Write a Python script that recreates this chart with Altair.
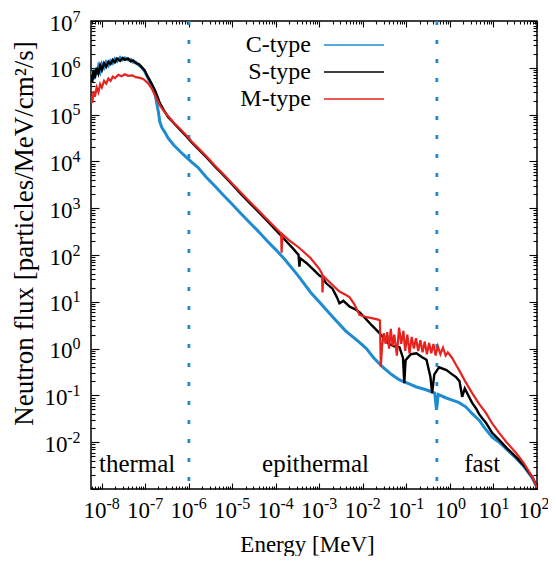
import altair as alt
import pandas as pd

# ---- data: (log10 Energy [MeV], log10 flux) ----
c_type = [(-8.25,5.80),(-8.22,5.92),(-8.19,5.75),(-8.16,5.98),(-8.12,5.85),(-8.08,6.03),(-8.04,5.92),(-8.00,6.08),
          (-7.95,6.00),(-7.90,6.12),(-7.85,6.05),(-7.80,6.15),(-7.75,6.10),(-7.70,6.19),(-7.65,6.14),(-7.58,6.22),
          (-7.52,6.17),(-7.47,6.21),(-7.40,6.17),(-7.34,6.18),(-7.28,6.12),(-7.22,6.12),(-7.15,6.05),(-7.10,6.02),
          (-7.02,5.93),(-6.94,5.78),(-6.86,5.62),(-6.78,5.45),(-6.74,5.25),(-6.70,5.05),(-6.67,4.85),(-6.62,4.72),
          (-6.55,4.62),(-6.48,4.50),(-6.35,4.35),(-6.19,4.20),(-6.05,4.08),(-5.93,3.98),(-5.80,3.88),(-5.60,3.66),
          (-5.41,3.48),(-5.20,3.27),(-5.00,3.08),(-4.80,2.88),(-4.60,2.69),(-4.40,2.50),(-4.20,2.30),(-4.00,2.11),
          (-3.80,1.91),(-3.50,1.57),(-3.20,1.20),(-2.93,0.92),(-2.70,0.68),(-2.40,0.38),(-2.10,0.15),(-1.92,0.00),
          (-1.75,-0.20),(-1.55,-0.39),(-1.35,-0.55),(-1.16,-0.67),(-0.95,-0.75),(-0.77,-0.82),(-0.55,-0.88),
          (-0.35,-0.95),(-0.31,-1.31),(-0.27,-0.98),(-0.10,-1.05),(0.05,-1.10),(0.20,-1.15),(0.37,-1.25),
          (0.50,-1.38),(0.67,-1.53),(0.80,-1.70),(0.97,-1.89),(1.13,-2.00),(1.30,-2.15),(1.52,-2.34),
          (1.70,-2.52),(1.89,-2.76),(2.00,-2.97)]

s_type = [(-8.25,5.85),(-8.22,5.70),(-8.19,5.95),(-8.16,5.78),(-8.12,6.00),(-8.08,5.88),(-8.04,6.05),(-8.00,5.95),
          (-7.95,6.10),(-7.90,6.02),(-7.85,6.13),(-7.80,6.08),(-7.75,6.17),(-7.70,6.12),(-7.65,6.20),(-7.58,6.15),
          (-7.52,6.21),(-7.47,6.17),(-7.40,6.20),(-7.34,6.14),(-7.28,6.16),(-7.22,6.10),(-7.15,6.08),(-7.10,6.03),
          (-7.02,5.95),(-6.94,5.80),(-6.86,5.67),(-6.78,5.52),(-6.72,5.38),(-6.67,5.25),(-6.58,5.10),(-6.48,4.95),
          (-6.35,4.82),(-6.19,4.66),(-6.05,4.53),(-5.93,4.40),(-5.80,4.28),(-5.60,4.09),(-5.41,3.90),(-5.20,3.70),
          (-5.00,3.50),(-4.80,3.30),(-4.60,3.11),(-4.40,2.92),(-4.20,2.73),(-4.00,2.53),(-3.80,2.33),(-3.60,2.13),
          (-3.48,2.00),(-3.46,1.75),(-3.44,1.93),(-3.30,1.83),(-3.15,1.70),(-3.00,1.56),(-2.93,1.52),(-2.85,1.40),
          (-2.70,1.28),(-2.60,1.10),(-2.54,0.97),(-2.45,1.02),(-2.31,0.90),(-2.20,0.85),(-2.08,0.78),(-1.95,0.65),
          (-1.80,0.50),(-1.62,0.33),(-1.50,0.20),(-1.40,0.10),(-1.28,0.05),(-1.16,0.03),(-1.08,-0.20),(-1.05,-0.74),
          (-1.02,-0.25),(-0.90,-0.12),(-0.77,-0.10),(-0.65,-0.18),(-0.54,-0.24),(-0.45,-0.60),(-0.41,-0.95),
          (-0.36,-0.55),(-0.25,-0.40),(-0.08,-0.46),(0.05,-0.55),(0.14,-0.61),(0.22,-0.70),(0.28,-1.03),
          (0.34,-0.85),(0.42,-1.00),(0.51,-1.16),(0.60,-1.28),(0.67,-1.40),(0.75,-1.50),(0.83,-1.59),(0.97,-1.80),
          (1.13,-1.95),(1.30,-2.12),(1.52,-2.32),(1.70,-2.50),(1.89,-2.74),(2.00,-2.95)]

m_type = [(-8.25,5.40),(-8.22,5.25),(-8.19,5.50),(-8.16,5.38),(-8.12,5.58),(-8.08,5.48),(-8.04,5.65),(-8.00,5.58),
          (-7.95,5.72),(-7.90,5.66),(-7.85,5.77),(-7.80,5.72),(-7.75,5.81),(-7.70,5.78),(-7.62,5.85),(-7.55,5.82),
          (-7.47,5.86),(-7.40,5.83),(-7.30,5.84),(-7.22,5.80),(-7.15,5.79),(-7.05,5.76),(-6.94,5.67),(-6.85,5.55),
          (-6.78,5.42),(-6.72,5.30),(-6.67,5.20),(-6.58,5.08),(-6.48,4.97),(-6.35,4.83),(-6.19,4.68),(-6.05,4.55),
          (-5.93,4.42),(-5.80,4.30),(-5.60,4.11),(-5.41,3.92),(-5.20,3.72),(-5.00,3.52),(-4.80,3.33),(-4.60,3.14),
          (-4.40,2.95),(-4.20,2.76),(-4.00,2.57),(-3.88,2.46),(-3.87,2.05),(-3.85,2.44),(-3.70,2.32),(-3.46,2.15),
          (-3.20,1.93),(-3.00,1.70),(-2.94,1.60),(-2.93,1.20),(-2.91,1.55),(-2.80,1.45),(-2.70,1.36),(-2.54,1.22),
          (-2.40,1.15),(-2.31,1.10),(-2.20,0.95),(-2.08,0.72),(-1.95,0.68),(-1.80,0.65),(-1.65,0.62),(-1.61,0.60),
          (-1.59,-0.39),(-1.56,0.05),(-1.52,0.33),(-1.48,0.10),(-1.44,0.35),(-1.40,0.00),(-1.36,0.42),(-1.32,0.05),
          (-1.28,0.30),(-1.22,-0.15),(-1.17,0.45),(-1.12,0.10),(-1.07,0.38),(-1.03,-0.05),(-0.98,0.30),(-0.93,-0.10),
          (-0.88,0.25),(-0.83,0.00),(-0.78,0.22),(-0.73,-0.05),(-0.68,0.18),(-0.63,-0.08),(-0.58,0.15),(-0.53,-0.12),
          (-0.48,0.12),(-0.43,-0.10),(-0.38,0.10),(-0.33,-0.15),(-0.28,0.05),(-0.22,-0.12),(-0.16,0.02),(-0.10,-0.15),
          (-0.05,-0.08),(0.05,-0.20),(0.14,-0.35),(0.21,-0.46),(0.35,-0.70),(0.51,-0.95),(0.67,-1.18),(0.83,-1.38),
          (0.97,-1.60),(1.13,-1.80),(1.30,-2.00),(1.52,-2.23),(1.70,-2.45),(1.89,-2.74),(2.00,-2.97)]

series_names = ["C-type", "S-type", "M-type"]
series_colors = ["#1f8bd0", "#000000", "#e6231e"]
boundaries = [1e-6, 0.5]                      # MeV, dashed region limits
region_labels = ["thermal", "epithermal", "fast"]
region_label_logE = [-7.19, -3.09, 0.74]
region_label_logF = [-2.64, -2.64, -2.64]

x_major = [10.0 ** k for k in range(-8, 3)]
y_major = [10.0 ** k for k in range(-3, 8)]
y_labelled = [10.0 ** k for k in range(-2, 8)]
x_minor = [m * 10.0 ** k for k in range(-9, 2) for m in range(2, 10) if 10 ** -8.25 < m * 10.0 ** k < 100]
y_minor = [m * 10.0 ** k for k in range(-3, 7) for m in range(2, 10)]

# ---- build tables ----
rows = []
for name, pts in zip(series_names, [c_type, s_type, m_type]):
    for i, (le, lf) in enumerate(pts):
        rows.append({"series": name, "E": 10 ** le, "F": 10 ** lf, "i": i})
df = pd.DataFrame(rows)
bdf = pd.DataFrame({"E": boundaries})
tdf = pd.DataFrame({"label": region_labels,
                    "E": [10 ** v for v in region_label_logE],
                    "F": [10 ** v for v in region_label_logF]})

FONT = "Liberation Serif"
xscale = alt.Scale(type="log", domain=[10 ** -8.25, 100], nice=False)
yscale = alt.Scale(type="log", domain=[1e-3, 1e7], nice=False)
EXP = "'' + round(log(datum.value)/LN10)"
NEG = "datum.value < 1"
XSHIFT = "datum.value < 1 || datum.value > 50"


def tick_axis(orient, values, size):
    return alt.Axis(orient=orient, values=values, tickSize={"expr": str(-size)}, ticks=True,
                    tickColor="black", tickWidth=1.1, domain=False, grid=False,
                    labels=False, title=None)


def label_axis(orient, values, expr, size, **kw):
    return alt.Axis(orient=orient, values=values, ticks=False, domain=False, grid=False,
                    labelExpr=expr, labelFont=FONT, labelFontSize=size, labelColor="black",
                    labelFlush=False, labelOverlap=False, labelBound=False, **kw)


# base "10" of the x labels, carrying the axis title
x_base = label_axis("bottom", x_major, "'10'", 23, labelAlign="right", labelBaseline="top",
                    labelPadding=10,
                    labelOffset={"condition": {"test": XSHIFT, "value": 4}, "value": 7.5},
                    title="Energy [MeV]", titleFont=FONT, titleFontSize=23, titleFontWeight="normal",
                    titleColor="black", titleX=216, titleY=62, titleBaseline="alphabetic")
# raised exponent of the x labels
x_exp = label_axis("bottom", x_major, EXP, 16, labelAlign="left", labelBaseline="top", labelPadding=6,
                   labelOffset={"condition": {"test": XSHIFT, "value": 4}, "value": 7.5}, title=None)
# base "10" of the y labels, carrying the axis title
y_base = label_axis("left", y_labelled, "'10'", 23, labelAlign="right", labelBaseline="middle",
                    labelOffset=2,
                    labelPadding={"condition": {"test": NEG, "value": 24}, "value": 19},
                    title="Neutron flux [particles/MeV/cm²/s]", titleFont=FONT, titleFontSize=27,
                    titleFontWeight="normal", titleColor="black", titleX=-59, titleY=212,
                    titleBaseline="alphabetic", titleAngle=270)
y_exp = label_axis("left", y_labelled, EXP, 16, labelAlign="right", labelBaseline="alphabetic",
                   labelPadding=11, title=None)

legend = alt.Legend(title=None, orient="none", legendX=251, legendY=12, direction="vertical",
                    symbolType="M-3,0H3", symbolSize=400, symbolStrokeWidth=1.6,
                    labelFont=FONT, labelFontSize=24, labelColor="black", labelAlign="right",
                    labelOffset={"expr": "-55"}, rowPadding=3, padding=0, labelLimit=0)
color = alt.Color("series:N", scale=alt.Scale(domain=series_names, range=series_colors), legend=legend)
line_widths = [3.0, 2.4, 2.2]

layers = []
rules = alt.Chart(bdf).mark_rule(strokeDash=[4, 15], strokeWidth=2.8, color="#1f8bd0").encode(
    x=alt.X("E:Q", scale=xscale, axis=None))
layers.append(rules)
for k, name in enumerate(series_names):
    ax_x = x_base if k == 0 else None
    ax_y = y_base if k == 0 else None
    layers.append(alt.Chart(df[df.series == name]).mark_line(strokeWidth=line_widths[k], clip=True).encode(
        x=alt.X("E:Q", scale=xscale, axis=ax_x),
        y=alt.Y("F:Q", scale=yscale, axis=ax_y),
        color=color,
        order="i:Q"))

texts = alt.Chart(tdf).mark_text(font=FONT, fontSize=25, align="center", baseline="alphabetic",
                                 color="black").encode(
    x=alt.X("E:Q", scale=xscale, axis=None), y=alt.Y("F:Q", scale=yscale, axis=None), text="label:N")
layers.append(texts)

for xa, ya in [(x_exp, y_exp),
               (tick_axis("bottom", x_major, 6), tick_axis("left", y_major, 8)),
               (tick_axis("bottom", x_minor, 3), tick_axis("left", y_minor, 4)),
               (tick_axis("top", x_major, 6), tick_axis("right", y_major, 8)),
               (tick_axis("top", x_minor, 3), tick_axis("right", y_minor, 4))]:
    layers.append(alt.Chart(df).mark_point(opacity=0).encode(
        x=alt.X("E:Q", scale=xscale, axis=xa), y=alt.Y("F:Q", scale=yscale, axis=ya)))

chart = alt.layer(*layers).resolve_axis(x="independent", y="independent").properties(
    width=446, height=468,
    autosize=alt.AutoSizeParams(type="none"),
    padding={"left": 83, "top": 13, "right": 11, "bottom": 67},
    background="white",
).configure_view(stroke="black", strokeWidth=1.5)

chart.save("out.html", embed_options={"renderer": "svg", "actions": False})
